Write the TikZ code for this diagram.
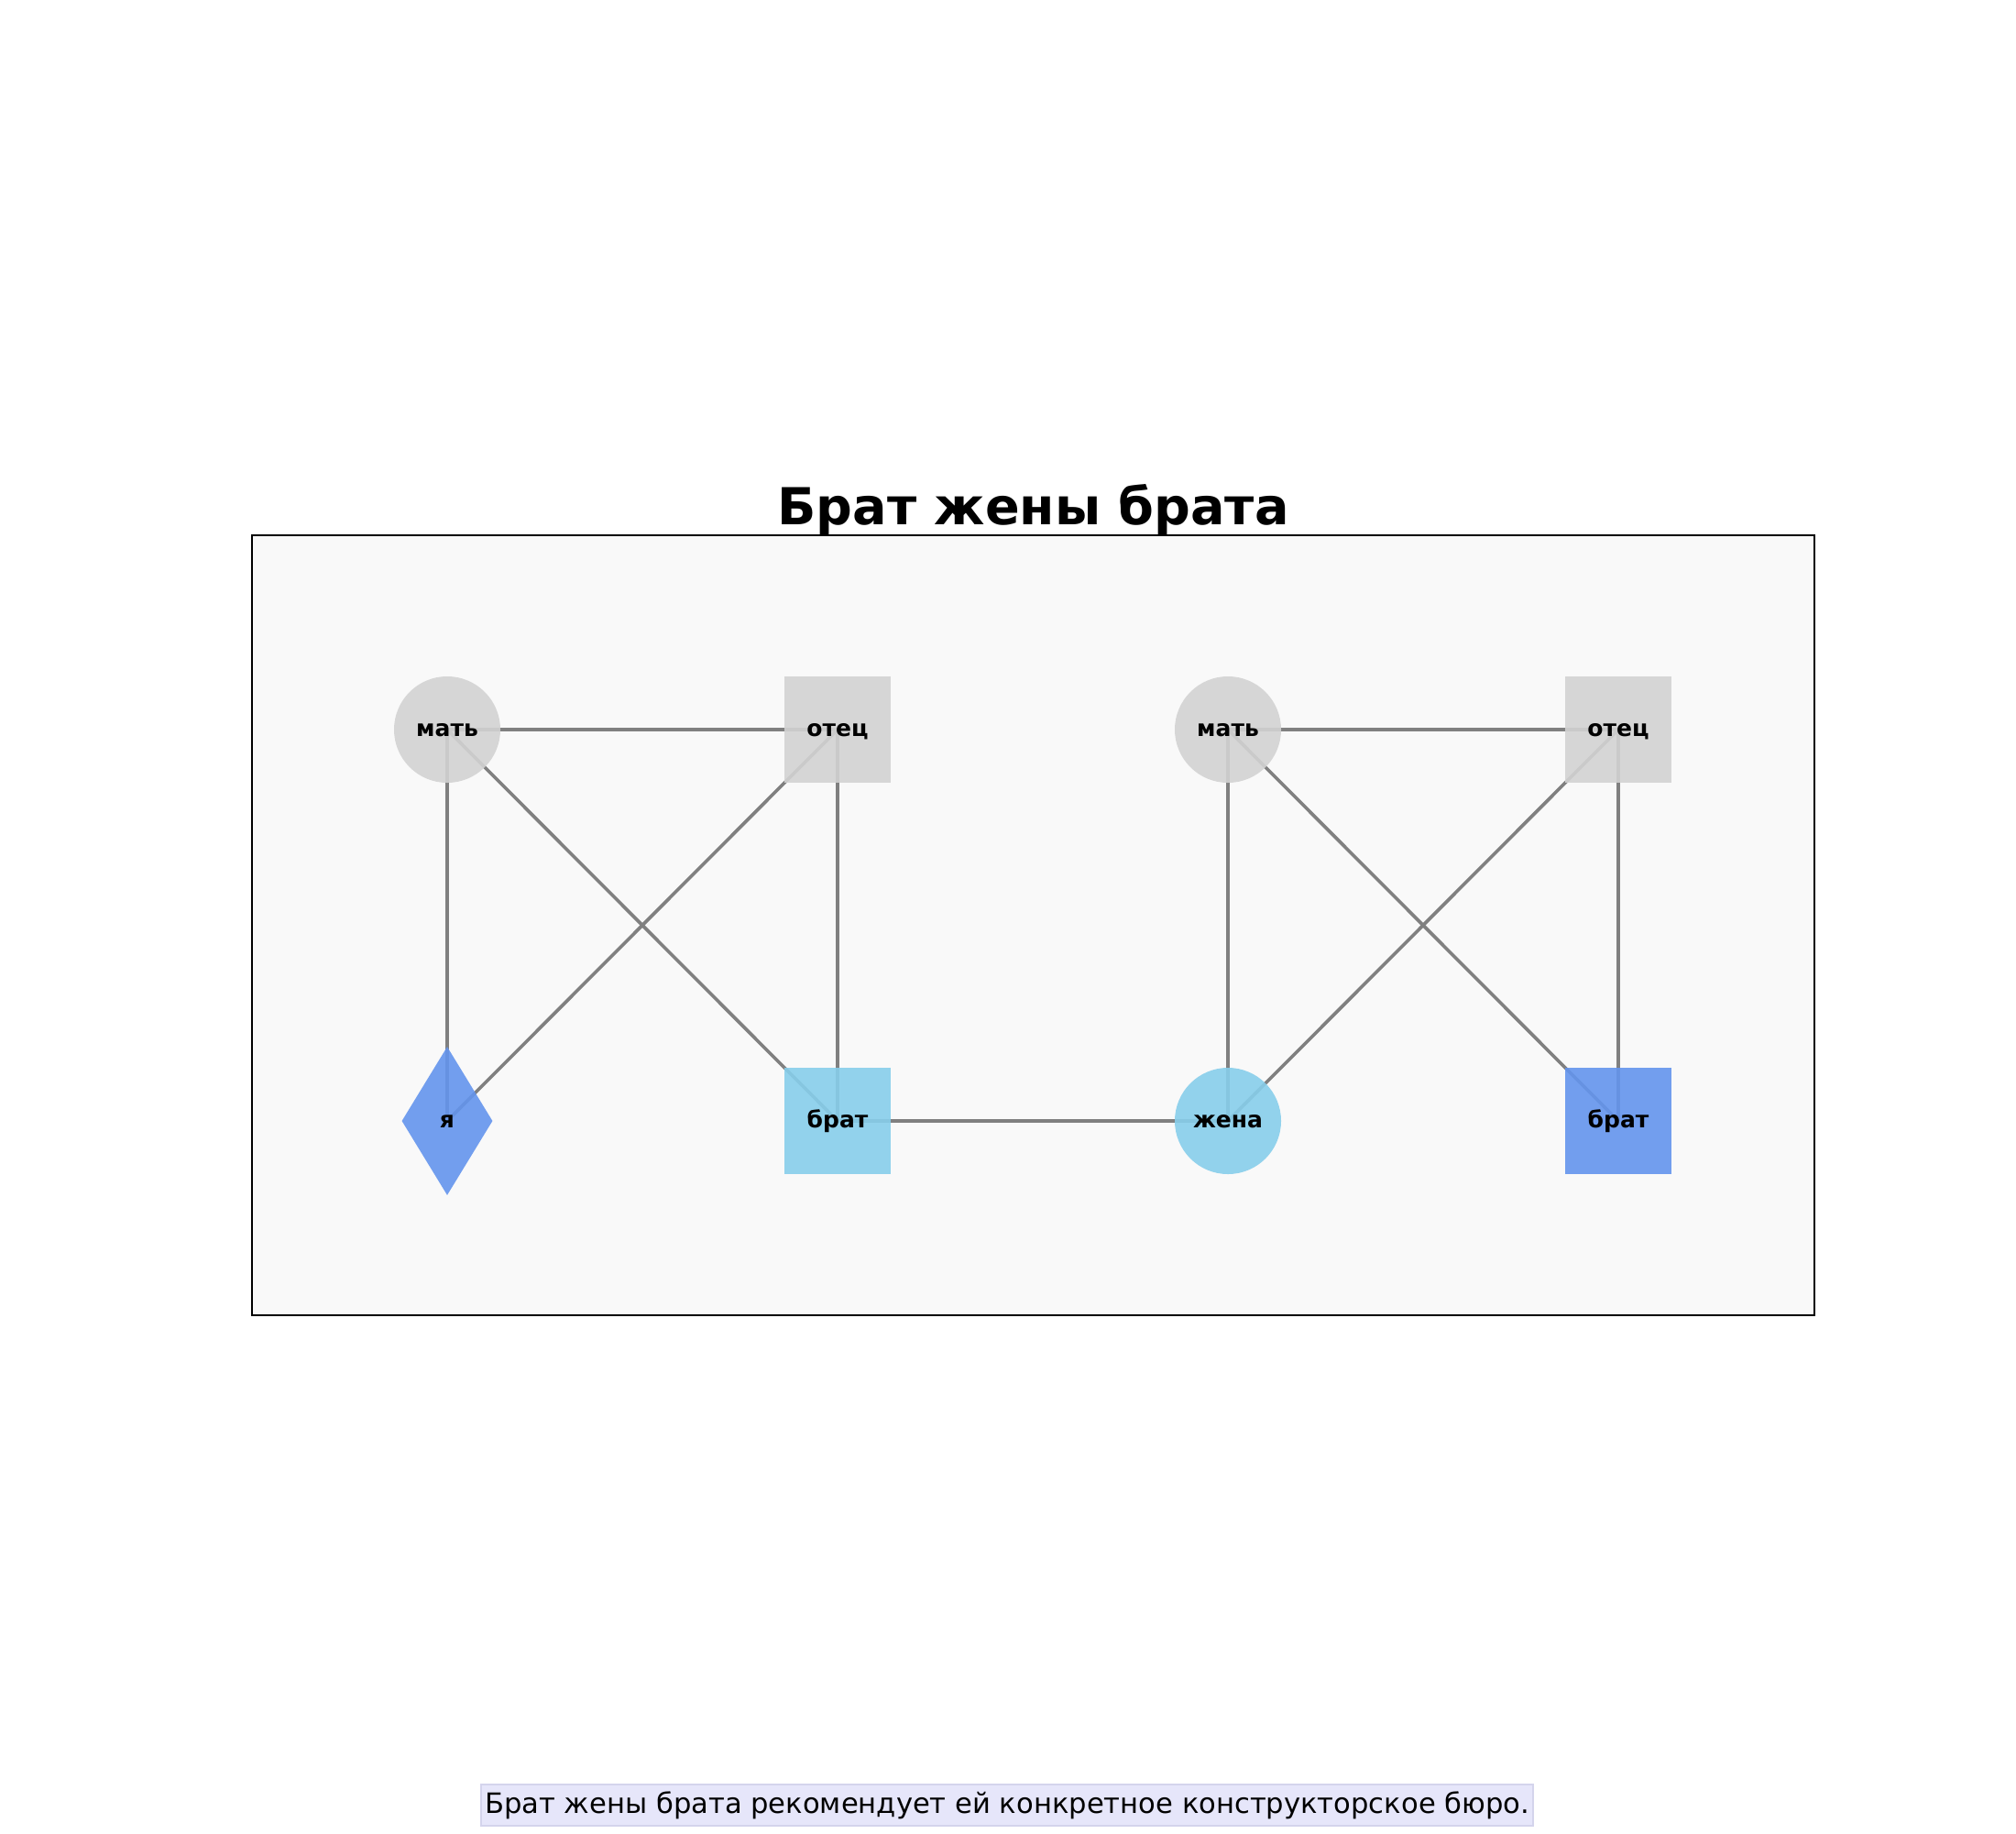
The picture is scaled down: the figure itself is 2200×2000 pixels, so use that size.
\documentclass[tikz,border=0pt]{standalone}
\usepackage{fontspec}
\setmainfont{DejaVu Sans}
\usetikzlibrary{shapes.geometric}
\definecolor{edgegray}{HTML}{808080}
\definecolor{nodegray}{HTML}{D3D3D3}
\definecolor{sky}{HTML}{87CEEB}
\definecolor{cfblue}{HTML}{6495ED}
\definecolor{axbg}{HTML}{F9F9F9}
\definecolor{capfill}{HTML}{E6E6FA}
\definecolor{capedge}{HTML}{D4D4EC}
\pgfdeclarelayer{bg}
\pgfdeclarelayer{edges}
\pgfsetlayers{bg,edges,main}
\tikzset{
  lbl/.style={font=\fontsize{25}{30}\selectfont\bfseries, text=black, inner sep=0pt, text height=20pt, text depth=6pt, fill opacity=0.9, text opacity=1},
  circnode/.style={lbl, circle, minimum size=116pt},
  sqnode/.style={lbl, rectangle, minimum size=116pt},
  dmnode/.style={lbl, diamond, minimum width=99pt, minimum height=162pt},
  rel/.style={draw=edgegray, line width=3.6pt}
}
\begin{document}
\begin{tikzpicture}[x=1pt,y=-1pt]
\useasboundingbox (0,0) rectangle (2200,2000);
\begin{pgfonlayer}{bg}
\fill[white] (0,0) rectangle (2200,2000);
\filldraw[fill=axbg, draw=black, line width=1.5pt] (275,584) rectangle (1980,1435);
\end{pgfonlayer}
\node[anchor=base, font=\fontsize{55.6}{64}\selectfont\bfseries] (title) at (1127.5,572) {Брат жены брата};
% left family
\node[circnode, fill=nodegray] (m1) at (488,796) {мать};
\node[sqnode, fill=nodegray] (f1) at (914,796) {отец};
\node[dmnode, fill=cfblue] (me) at (488,1223) {я};
\node[sqnode, fill=sky] (b1) at (914,1223) {брат};
% right family
\node[circnode, fill=nodegray] (m2) at (1340,796) {мать};
\node[sqnode, fill=nodegray] (f2) at (1766,796) {отец};
\node[circnode, fill=sky] (w) at (1340,1223) {жена};
\node[sqnode, fill=cfblue] (b2) at (1766,1223) {брат};
\begin{pgfonlayer}{edges}
\draw[rel] (m1.center) -- (f1.center);
\draw[rel] (m1.center) -- (me.center);
\draw[rel] (m1.center) -- (b1.center);
\draw[rel] (f1.center) -- (me.center);
\draw[rel] (f1.center) -- (b1.center);
\draw[rel] (b1.center) -- (w.center);
\draw[rel] (m2.center) -- (f2.center);
\draw[rel] (m2.center) -- (w.center);
\draw[rel] (m2.center) -- (b2.center);
\draw[rel] (f2.center) -- (w.center);
\draw[rel] (f2.center) -- (b2.center);
\end{pgfonlayer}
\node[font=\fontsize{30.6}{36}\selectfont, fill=capfill, draw=capedge, line width=1.5pt, inner xsep=4pt, minimum height=45pt] (cap) at (1099,1969.5) {Брат жены брата рекомендует ей конкретное конструкторское бюро.};
\end{tikzpicture}
\end{document}
